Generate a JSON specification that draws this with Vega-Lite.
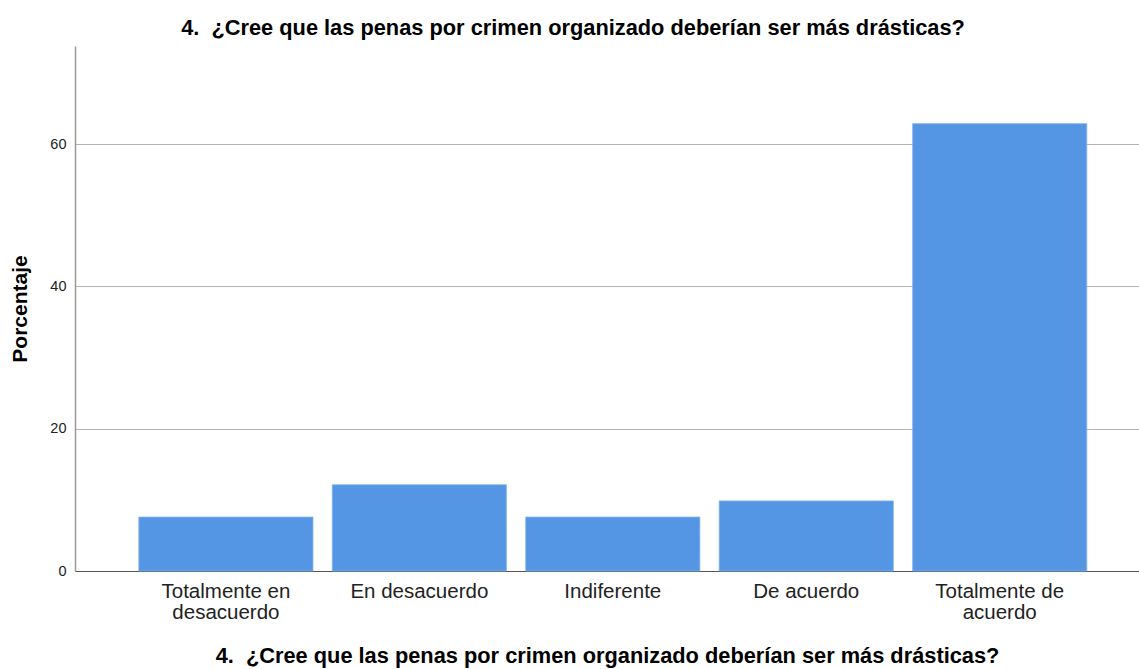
{
  "$schema": "https://vega.github.io/schema/vega-lite/v6.json",
  "width": 1064,
  "height": 525,
  "autosize": {"type": "none"},
  "padding": {"left": 75, "top": 46, "right": 0, "bottom": 98},
  "background": "white",
  "config": {
    "view": {"stroke": null},
    "font": "Liberation Sans"
  },
  "title": {
    "text": "4.\u00a0 ¿Cree que las penas por crimen organizado deberían ser más drásticas?",
    "font": "Liberation Sans",
    "fontSize": 21.8,
    "fontWeight": "bold",
    "color": "#000000",
    "anchor": "middle",
    "dx": -34,
    "offset": 6
  },
  "data": {
    "values": [
      {"categoria": "Totalmente en desacuerdo", "orden": 1, "porcentaje": 7.58},
      {"categoria": "En desacuerdo", "orden": 2, "porcentaje": 12.12},
      {"categoria": "Indiferente", "orden": 3, "porcentaje": 7.58},
      {"categoria": "De acuerdo", "orden": 4, "porcentaje": 9.85},
      {"categoria": "Totalmente de acuerdo", "orden": 5, "porcentaje": 62.88}
    ]
  },
  "mark": {"type": "bar", "color": "#5596e4", "stroke": "#7fb0ec", "strokeWidth": 0.8},
  "encoding": {
    "x": {
      "field": "categoria",
      "type": "nominal",
      "sort": {"field": "orden"},
      "scale": {"paddingInner": 0.1, "paddingOuter": 0.3, "align": 0.55},
      "axis": {
        "title": "4.\u00a0 ¿Cree que las penas por crimen organizado deberían ser más drásticas?",
        "titleFont": "Liberation Sans",
        "titleFontSize": 21.8,
        "titleFontWeight": "bold",
        "titleColor": "#000000",
        "titlePadding": 22,
        "labelFont": "Liberation Sans",
        "labelFontSize": 20.5,
        "labelColor": "#222222",
        "labelAngle": 0,
        "labelPadding": 10,
        "labelLineHeight": 21.7,
        "labelExpr": "datum.label == 'Totalmente en desacuerdo' ? ['Totalmente en', 'desacuerdo'] : datum.label == 'Totalmente de acuerdo' ? ['Totalmente de', 'acuerdo'] : datum.label",
        "ticks": false,
        "domainColor": "#555555",
        "domainWidth": 1.2,
        "grid": false
      }
    },
    "y": {
      "field": "porcentaje",
      "type": "quantitative",
      "scale": {"domain": [0, 73.8], "nice": false},
      "axis": {
        "title": "Porcentaje",
        "titleFont": "Liberation Sans",
        "titleFontSize": 21,
        "titleFontWeight": "bold",
        "titleColor": "#000000",
        "titlePadding": 19,
        "values": [0, 20, 40, 60],
        "labelFont": "Liberation Sans",
        "labelFontSize": 14.5,
        "labelColor": "#222222",
        "labelPadding": 9,
        "ticks": false,
        "domainColor": "#999999",
        "domainWidth": 1.5,
        "grid": true,
        "gridColor": "#b4b4b4",
        "gridWidth": 1
      }
    }
  }
}
